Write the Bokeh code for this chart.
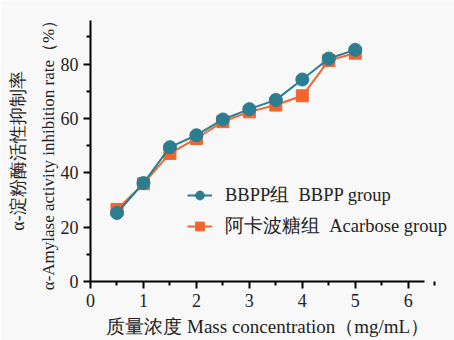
from bokeh.plotting import figure
from bokeh.models import Range1d, Legend, LegendItem, FixedTicker, LinearAxis
from bokeh.embed import file_html
from bokeh.resources import INLINE

conc = [0.5, 1.0, 1.5, 2.0, 2.5, 3.0, 3.5, 4.0, 4.5, 5.0]
bbpp = [25.2, 36.2, 49.4, 53.8, 59.6, 63.4, 66.8, 74.3, 82.0, 85.2]
acarbose = [26.5, 36.0, 47.1, 52.6, 58.8, 62.4, 64.9, 68.3, 81.3, 84.0]
x_ticks = [0, 1, 2, 3, 4, 5, 6]
y_ticks = [0, 20, 40, 60, 80]

TEAL = "#2b7d91"
ORANGE = "#f2652f"
BG = "#f8f8f8"
SERIF = "Liberation Serif"
INK = "#222222"

p = figure(width=454, height=340, output_backend="svg", toolbar_location=None,
           x_range=Range1d(0, 6.874), y_range=Range1d(0, 96),
           min_border_left=90, min_border_right=0, min_border_top=20, min_border_bottom=59)
p.background_fill_color = BG
p.border_fill_color = BG
p.outline_line_color = None
p.grid.visible = False

for ax in (p.xaxis[0], p.yaxis[0]):
    ax.axis_line_width = 2
    ax.axis_line_color = "black"
    ax.major_tick_line_width = 2
    ax.minor_tick_line_width = 2
    ax.major_tick_out = 7
    ax.major_tick_in = 0
    ax.minor_tick_out = 4
    ax.minor_tick_in = 0
    ax.major_label_text_font = SERIF
    ax.major_label_text_font_size = "18px"
    ax.major_label_text_color = INK

p.xaxis.bounds = (0, 6.3)
p.xaxis.ticker = FixedTicker(ticks=x_ticks, minor_ticks=[0.5 + i for i in range(7)])
p.yaxis.ticker = FixedTicker(ticks=y_ticks, minor_ticks=[10, 30, 50, 70, 90])
p.xaxis.major_label_standoff = 5
p.yaxis.major_label_standoff = 5
p.xaxis.axis_label = "质量浓度   Mass concentration（mg/mL）"
p.xaxis.axis_label_text_font = SERIF
p.xaxis.axis_label_text_font_style = "normal"
p.xaxis.axis_label_text_font_size = "19px"
p.xaxis.axis_label_text_color = INK
p.xaxis.axis_label_standoff = 6

p.yaxis.axis_label = "α-Amylase activity inhibition rate（%）"
p.yaxis.axis_label_text_font = SERIF
p.yaxis.axis_label_text_font_style = "normal"
p.yaxis.axis_label_text_font_size = "17px"
p.yaxis.axis_label_text_color = INK
p.yaxis.axis_label_standoff = 0

outer = LinearAxis(ticker=FixedTicker(ticks=[]), axis_line_color=None,
                   major_tick_line_color=None, minor_tick_line_color=None,
                   axis_label="α-淀粉酶活性抑制率", axis_label_text_font=SERIF,
                   axis_label_text_font_style="normal", axis_label_text_font_size="18px",
                   axis_label_text_color=INK, axis_label_standoff=8)
p.add_layout(outer, "left")

r_a = p.line(conc, acarbose, line_color=ORANGE, line_width=2)
s_a = p.scatter(conc, acarbose, marker="square", size=12, fill_color=ORANGE, line_color=ORANGE)
r_b = p.line(conc, bbpp, line_color=TEAL, line_width=2)
s_b = p.scatter(conc, bbpp, marker="circle", size=13, fill_color=TEAL, line_color=TEAL)

legend = Legend(items=[LegendItem(label="BBPP组  BBPP group", renderers=[r_b, s_b]),
                       LegendItem(label="阿卡波糖组  Acarbose group", renderers=[r_a, s_a])],
                location=(97, 43))
legend.background_fill_alpha = 0
legend.border_line_color = None
legend.padding = 0
legend.margin = 0
legend.spacing = 6
legend.glyph_width = 25
legend.glyph_height = 22
legend.label_height = 22
legend.label_standoff = 13
legend.label_text_font = SERIF
legend.label_text_font_size = "18.5px"
legend.label_text_color = INK
p.add_layout(legend, "center")

open("out.html", "w").write(file_html(p, INLINE))
